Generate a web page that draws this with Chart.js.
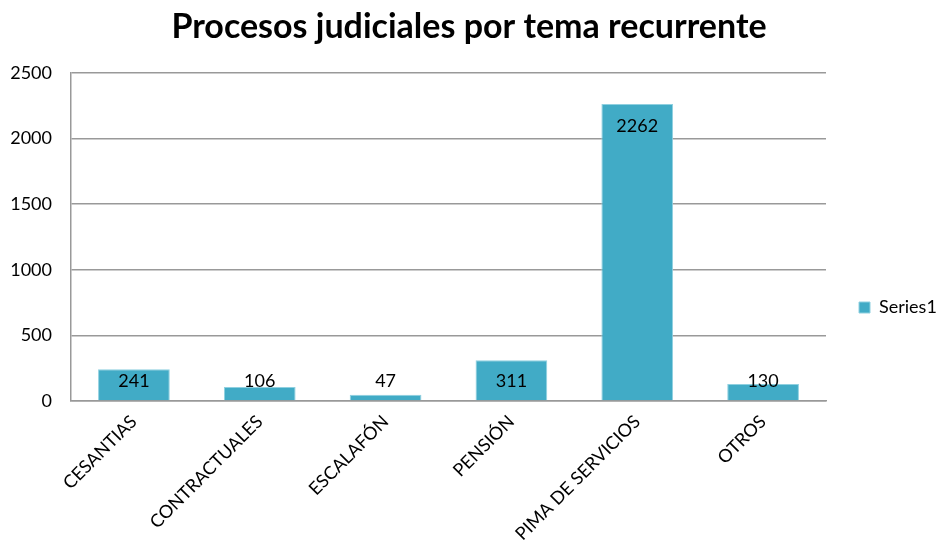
<!DOCTYPE html>
<html>
<head>
<meta charset="utf-8">
<script src="https://cdn.jsdelivr.net/npm/chart.js@4.4.1/dist/chart.umd.min.js"></script>
<style>
  html, body { margin: 0; padding: 0; background: #fff; }
  #wrap { width: 938px; height: 549px; }
</style>
</head>
<body>
<div id="wrap"><canvas id="chart"></canvas></div>
<script>
const categories = ['CESANTIAS', 'CONTRACTUALES', 'ESCALAFÓN', 'PENSIÓN', 'PIMA DE SERVICIOS', 'OTROS'];
const series1 = [241, 106, 47, 311, 2262, 130];
const yTicks = [0, 500, 1000, 1500, 2000, 2500];

const FONT = 'Lato, "Open Sans", sans-serif';
const BAR_COLOR = '#41abc6';
const GRID_COLOR = '#999999';

// etiquetas de valor dentro del extremo de la barra (como Excel)
const valueLabels = {
    id: 'valueLabels',
    afterDatasetsDraw(chart) {
        const ctx = chart.ctx;
        const meta = chart.getDatasetMeta(0);
        const base = chart.scales.y.getPixelForValue(0);
        ctx.save();
        ctx.font = '18px ' + FONT;
        ctx.fillStyle = '#000';
        ctx.textAlign = 'center';
        ctx.textBaseline = 'middle';
        meta.data.forEach((bar, i) => {
            const y = Math.min(bar.y + 22, base - 20);
            ctx.fillText(String(series1[i]), bar.x, y);
        });
        ctx.restore();
    }
};

// ancho fijo para la leyenda de la derecha
const legendWidth = {
    id: 'legendWidth',
    beforeLayout(chart) {
        const lg = chart.legend;
        if (lg && !lg._fixedWidth) {
            const fit = lg.fit.bind(lg);
            lg.fit = function () { fit(); this.width = 112; };
            lg._fixedWidth = true;
        }
    }
};

new Chart(document.getElementById('chart'), {
    type: 'bar',
    data: {
        labels: categories,
        datasets: [{
            label: 'Series1',
            data: series1,
            backgroundColor: BAR_COLOR,
            borderColor: '#8fd0e0',
            borderWidth: 1,
            categoryPercentage: 1,
            barPercentage: 0.57
        }]
    },
    options: {
        responsive: true,
        maintainAspectRatio: false,
        animation: false,
        layout: { padding: 0 },
        plugins: {
            title: {
                display: true,
                text: 'Procesos judiciales por tema recurrente',
                color: '#000',
                font: { family: FONT, size: 34, weight: 'bold' },
                padding: { top: 7, bottom: 25 }
            },
            legend: {
                position: 'right',
                title: { display: true, text: ' ', font: { size: 10 }, padding: { top: 54, bottom: 0 } },
                labels: {
                    color: '#000',
                    boxWidth: 11,
                    boxHeight: 11,
                    padding: 33,
                    font: { family: FONT, size: 18 }
                }
            },
            tooltip: { enabled: false }
        },
        scales: {
            x: {
                grid: { display: false, drawTicks: false },
                border: { display: true, color: GRID_COLOR, width: 1.5 },
                ticks: {
                    color: '#000',
                    font: { family: FONT, size: 18 },
                    minRotation: 45,
                    maxRotation: 45,
                    padding: 10
                },
                afterFit(scale) { scale.height = 148; }
            },
            y: {
                min: 0,
                max: 2500,
                grid: { color: GRID_COLOR, lineWidth: 1.5, drawTicks: false },
                border: { display: true, color: GRID_COLOR, width: 1.5 },
                ticks: {
                    color: '#000',
                    font: { family: FONT, size: 18 },
                    padding: 19,
                    stepSize: 500,
                    callback: v => String(v)
                },
                afterBuildTicks(scale) { scale.ticks = yTicks.map(v => ({ value: v })); },
                afterFit(scale) { scale.width = 71; }
            }
        }
    },
    plugins: [valueLabels, legendWidth]
});
</script>
</body>
</html>
